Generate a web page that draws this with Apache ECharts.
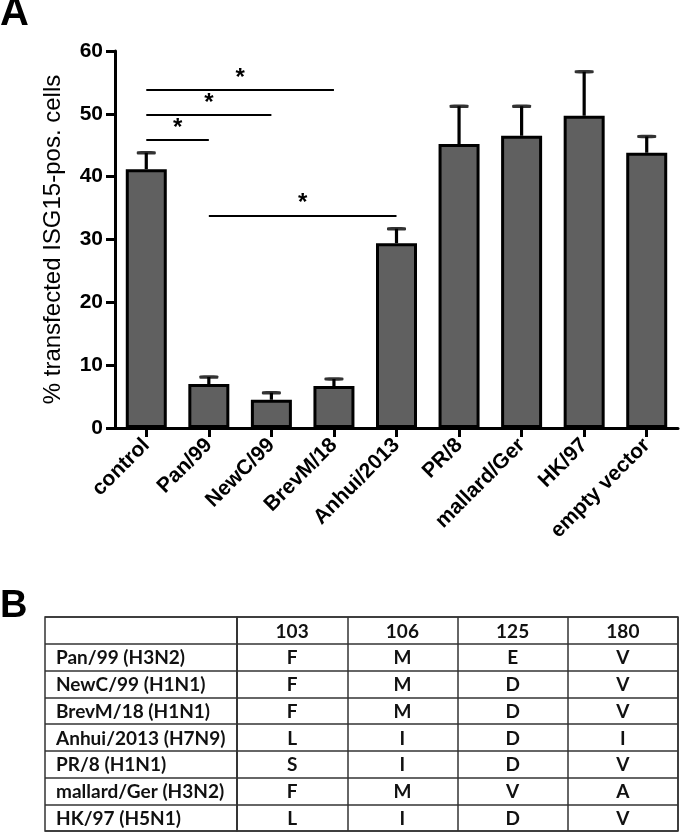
<!DOCTYPE html>
<html>
<head>
<meta charset="utf-8">
<script src="https://cdn.jsdelivr.net/npm/echarts@6/dist/echarts.min.js"></script>
<style>
html,body{margin:0;padding:0;background:#fff;}
#wrap{position:relative;width:680px;height:835px;}
#chartA{position:absolute;left:0;top:0;width:680px;height:560px;}
#chartB{position:absolute;left:0;top:560px;width:680px;height:275px;}
</style>
</head>
<body>
<div id="wrap">
<div id="chartA"></div>
<div id="chartB"></div>
</div>
<script>
// ---- Panel A data ----
const categories = ['control','Pan/99','NewC/99','BrevM/18','Anhui/2013','PR/8','mallard/Ger','HK/97','empty vector'];
const means = [41.2, 7.0, 4.5, 6.7, 29.4, 45.2, 46.5, 49.7, 43.8];
const upperErr = [43.8, 8.1, 5.6, 7.8, 31.7, 51.2, 51.2, 56.7, 46.4];
const yTicks = [0, 10, 20, 30, 40, 50, 60];
// significance brackets (category index from/to, y in %)
const sigFrom = [0, 0, 0, 1];
const sigTo = [3, 2, 1, 4];
const sigY = [53.8, 49.8, 45.8, 33.85];
const sigLabel = ['*', '*', '*', '*'];

// ---- Panel B data ----
const tableRows = ['Pan/99 (H3N2)','NewC/99 (H1N1)','BrevM/18 (H1N1)','Anhui/2013 (H7N9)','PR/8 (H1N1)','mallard/Ger (H3N2)','HK/97 (H5N1)'];
const positions = ['103','106','125','180'];
const res103 = ['F','F','F','L','S','F','L'];
const res106 = ['M','M','M','I','I','M','I'];
const res125 = ['E','D','D','D','D','V','D'];
const res180 = ['V','V','V','I','V','A','V'];

const residueCols = [res103, res106, res125, res180];
const rowKeys = ['header'].concat(tableRows);

const cellData = [];
const cellText = [];
positions.forEach((p, j) => { cellData.push([j, 0]); cellText.push(p); });
residueCols.forEach((col, j) => col.forEach((r, i) => { cellData.push([j, i + 1]); cellText.push(r); }));
const nameData = tableRows.map((r, i) => [0, i + 1]);

const FONT = 'Liberation Sans, Arial, sans-serif';
const TFONT = 'Lato, "Open Sans", sans-serif';
const lineCol = '#333';

// ================= Panel A =================
const errLineSeries = categories.map((c, i) => ({
  type: 'line',
  data: [[i, means[i]], [i, upperErr[i]]],
  symbol: 'none',
  lineStyle: {color: '#000', width: 3.2},
  silent: true,
  z: 2
}));

const chartA = echarts.init(document.getElementById('chartA'), null, {renderer: 'canvas'});
chartA.setOption({
  animation: false,
  backgroundColor: '#fff',
  title: {text: 'A', left: 0, top: -6, padding: 0, textStyle: {fontSize: 40, fontWeight: 'bold', color: '#000', fontFamily: FONT}},
  grid: {left: 115, top: 51, width: 563, height: 377},
  xAxis: {
    type: 'category', data: categories,
    axisLine: {show: true, lineStyle: {color: '#000', width: 3}},
    axisTick: {show: true, interval: 0, alignWithLabel: true, length: 9, lineStyle: {color: '#000', width: 3}},
    axisLabel: {show: true, rotate: 45, interval: 0, margin: 14, fontSize: 21, fontWeight: 'bold', color: '#000', fontFamily: FONT},
    splitLine: {show: false}
  },
  yAxis: {
    type: 'value', min: yTicks[0], max: yTicks[yTicks.length - 1], interval: 10,
    name: '% transfected ISG15-pos. cells', nameLocation: 'middle', nameGap: 50,
    nameTextStyle: {fontSize: 24, color: '#000', fontFamily: FONT},
    axisLine: {show: true, lineStyle: {color: '#000', width: 3}},
    axisTick: {show: true, length: 9, lineStyle: {color: '#000', width: 3}},
    axisLabel: {fontSize: 21, fontWeight: 'bold', color: '#000', margin: 12, fontFamily: FONT},
    splitLine: {show: false}
  },
  series: [
    {
      type: 'bar', data: means, barWidth: 41,
      itemStyle: {color: '#606060', borderColor: '#000', borderWidth: 3},
      z: 3,
      markLine: {
        silent: true,
        symbol: ['none', 'none'],
        lineStyle: {color: '#000', width: 2, type: 'solid'},
        label: {show: true, position: 'middle', formatter: (p) => sigLabel[p.dataIndex], distance: 0,
          fontSize: 24, fontWeight: 'bold', color: '#000', fontFamily: FONT},
        emphasis: {disabled: true},
        data: sigFrom.map((f, i) => [
          {coord: [categories[f], sigY[i]]},
          {coord: [categories[sigTo[i]], sigY[i]]}
        ])
      }
    }
  ].concat(errLineSeries).concat([
    {
      type: 'scatter',
      data: upperErr.map((u, i) => [i, u]),
      symbol: 'roundRect', symbolSize: [19, 3.5],
      itemStyle: {color: '#000'},
      silent: true,
      z: 4
    }
  ])
});

// ================= Panel B =================
const chartB = echarts.init(document.getElementById('chartB'), null, {renderer: 'canvas'});
chartB.setOption({
  animation: false,
  backgroundColor: '#fff',
  title: {text: 'B', left: 0, top: 28, padding: 0, textStyle: {fontSize: 38, fontWeight: 'bold', color: '#000', fontFamily: FONT}},
  grid: [
    {left: 45, top: 57, width: 192, height: 214, show: true, borderColor: lineCol, borderWidth: 1.5},
    {left: 237, top: 57, width: 441, height: 214, show: true, borderColor: lineCol, borderWidth: 1.5}
  ],
  xAxis: [
    {type: 'category', gridIndex: 0, data: ['name'], show: false},
    {
      type: 'category', gridIndex: 1, data: positions,
      axisLine: {show: false}, axisTick: {show: false}, axisLabel: {show: false},
      splitLine: {show: true, interval: 0, lineStyle: {color: lineCol, width: 1.5}}
    }
  ],
  yAxis: [
    {
      type: 'category', gridIndex: 0, data: rowKeys, inverse: true,
      axisLine: {show: false}, axisTick: {show: false}, axisLabel: {show: false},
      splitLine: {show: true, interval: 0, lineStyle: {color: lineCol, width: 1.5}}
    },
    {
      type: 'category', gridIndex: 1, data: rowKeys, inverse: true,
      axisLine: {show: false}, axisTick: {show: false}, axisLabel: {show: false},
      splitLine: {show: true, interval: 0, lineStyle: {color: lineCol, width: 1.5}}
    }
  ],
  series: [
    {
      type: 'custom', xAxisIndex: 0, yAxisIndex: 0,
      data: nameData,
      encode: {x: 0, y: 1},
      renderItem: function (params, api) {
        const c = api.coord([api.value(0), api.value(1)]);
        const s = api.size([1, 1]);
        return {type: 'text', style: {x: c[0] - s[0] / 2 + 11, y: c[1] + 1, text: tableRows[params.dataIndex],
          textAlign: 'left', textVerticalAlign: 'middle', font: 'bold 19px ' + TFONT, fill: '#111'}};
      }
    },
    {
      type: 'custom', xAxisIndex: 1, yAxisIndex: 1,
      data: cellData,
      encode: {x: 0, y: 1},
      renderItem: function (params, api) {
        const c = api.coord([api.value(0), api.value(1)]);
        return {type: 'text', style: {x: c[0], y: c[1] + 1, text: cellText[params.dataIndex],
          textAlign: 'center', textVerticalAlign: 'middle', font: 'bold 19px ' + TFONT, fill: '#111'}};
      }
    }
  ]
});
</script>
</body>
</html>
